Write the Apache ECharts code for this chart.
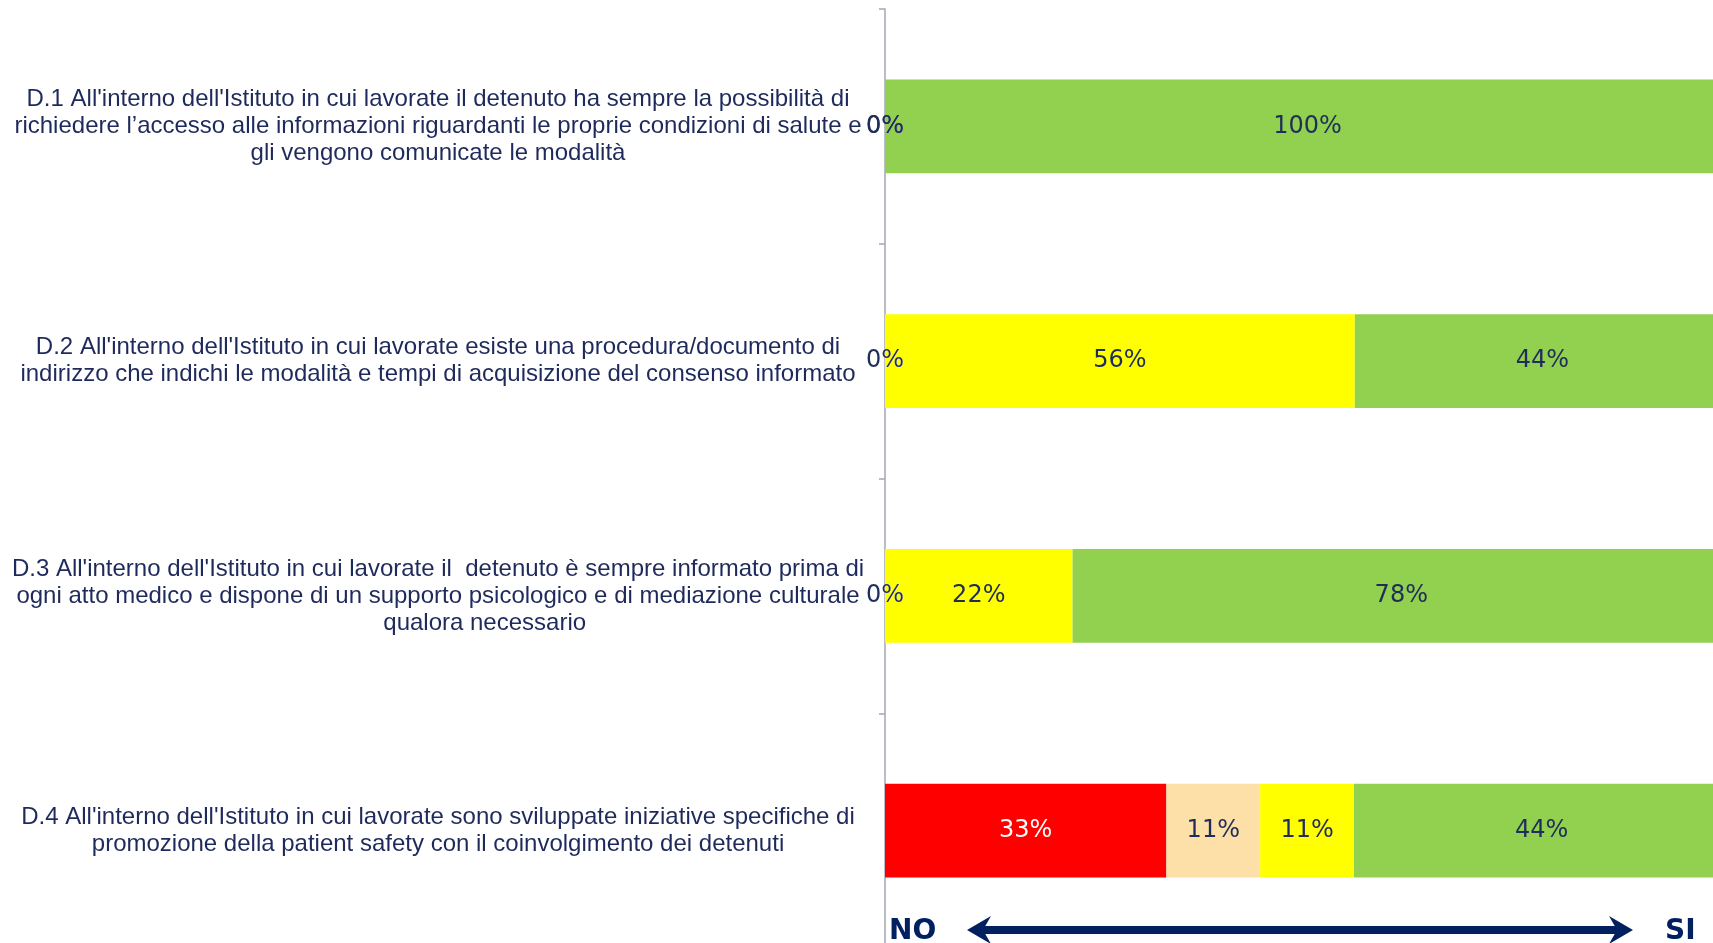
<!DOCTYPE html>
<html>
<head>
<meta charset="utf-8">
<style>html,body{margin:0;padding:0;background:#fff;}#c{width:1713px;height:943px;}</style>
<script src="https://cdn.jsdelivr.net/npm/echarts@6/dist/echarts.min.js"></script>
</head>
<body>
<div id="c"></div>
<script>
const categories = [
  "D.1 All'interno dell'Istituto in cui lavorate il detenuto ha sempre la possibilità di\nrichiedere l’accesso alle informazioni riguardanti le proprie condizioni di salute e\ngli vengono comunicate le modalità",
  "D.2 All'interno dell'Istituto in cui lavorate esiste una procedura/documento di\nindirizzo che indichi le modalità e tempi di acquisizione del consenso informato",
  "D.3 All'interno dell'Istituto in cui lavorate il  detenuto è sempre informato prima di\nogni atto medico e dispone di un supporto psicologico e di mediazione culturale\n              qualora necessario",
  "D.4 All'interno dell'Istituto in cui lavorate sono sviluppate iniziative specifiche di\npromozione della patient safety con il coinvolgimento dei detenuti"
];
const seriesNames = ["No", "Poco", "Abbastanza", "Si"];
const valuesNo = [0, 0, 0, 33.3];
const valuesPoco = [0, 0, 0, 11.1];
const valuesAbb = [0, 55.6, 22.2, 11.1];
const valuesSi = [100, 44.4, 77.8, 44.4];
const colors = ["#FF0000", "#FDDFA8", "#FFFF00", "#92D050"];
const labelColors = ["#FFFFFF", "#1F2D5A", "#1F2D5A", "#1F2D5A"];
const allValues = [valuesNo, valuesPoco, valuesAbb, valuesSi];

const chart = echarts.init(document.getElementById('c'));
const navy = '#002060';
const series = allValues.map((vals, i) => ({
  name: seriesNames[i],
  type: 'bar',
  stack: 'total',
  data: vals,
  barCategoryGap: '60%',
  itemStyle: { color: colors[i] },
  label: {
    show: true,
    position: 'inside',
    formatter: p => Math.round(p.value) + '%',
    color: labelColors[i],
    fontFamily: 'DejaVu Sans',
    fontSize: 24
  },
  emphasis: { disabled: true }
}));

chart.setOption({
  animation: false,
  grid: { left: 885, width: 845, top: 9, height: 939, containLabel: false, outerBoundsMode: 'none' },
  xAxis: {
    type: 'value', min: 0, max: 100,
    show: false
  },
  yAxis: {
    type: 'category',
    inverse: true,
    data: categories,
    axisLine: { show: true, lineStyle: { color: '#A6A6B4', width: 1.5 } },
    axisTick: { show: true, length: 6, lineStyle: { color: '#A6A6B4', width: 1.5 } },
    axisLabel: {
      align: 'center',
      margin: 447,
      color: '#1F2A5C',
      fontFamily: 'Liberation Sans',
      fontSize: 24,
      lineHeight: 27,
      padding: [6, 0, 0, 0]
    }
  },
  series: series,
  graphic: [
    { type: 'text', left: 889, top: 918, style: { text: 'NO', fill: navy, font: 'bold 28px "DejaVu Sans"' } },
    { type: 'text', left: 1665, top: 918, style: { text: 'SI', fill: navy, font: 'bold 28px "DejaVu Sans"' } },
    { type: 'line', shape: { x1: 980, y1: 930, x2: 1620, y2: 930 }, style: { stroke: navy, lineWidth: 8 } },
    { type: 'polygon', shape: { points: [[967, 930], [991, 916], [983, 930], [991, 944]] }, style: { fill: navy } },
    { type: 'polygon', shape: { points: [[1633, 930], [1609, 916], [1617, 930], [1609, 944]] }, style: { fill: navy } }
  ]
});
</script>
</body>
</html>
